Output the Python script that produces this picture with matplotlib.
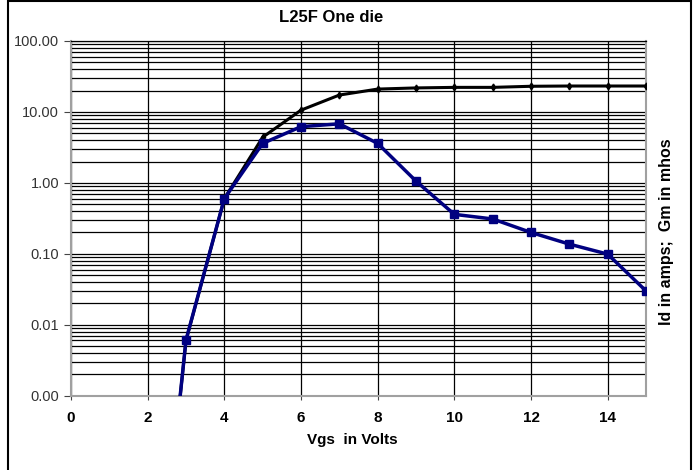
import matplotlib
matplotlib.use("Agg")
import matplotlib.pyplot as plt
from matplotlib.patches import Rectangle
from matplotlib.ticker import FixedLocator, LogLocator, NullFormatter

plt.rcParams['font.family'] = ['Liberation Sans', 'DejaVu Sans']

# Vgs (V)
vgs = [2, 3, 4, 5, 6, 7, 8, 9, 10, 11, 12, 13, 14, 15]
# Id in amps (black)
id_amps = [4e-8, 0.006, 0.6, 4.4, 10.6, 17.3, 21.0, 21.8, 22.2, 22.2, 23.0, 23.2, 23.2, 23.2]
# Gm in mhos (blue)
gm_mhos = [4e-8, 0.0061, 0.60, 3.6, 6.2, 6.8, 3.6, 1.06, 0.36, 0.31, 0.20, 0.137, 0.099, 0.030]

ytick_vals = [0.001, 0.01, 0.1, 1, 10, 100]
ytick_labels = ["0.00", "0.01", "0.10", "1.00", "10.00", "100.00"]
xtick_vals = [0, 2, 4, 6, 8, 10, 12, 14]

fig = plt.figure(figsize=(6.97, 4.70), dpi=100)
ax = fig.add_axes([71 / 697, 1 - 395.7 / 470, 575 / 697, 354.7 / 470])

# outer frame of the chart
fig.patches.append(Rectangle((8 / 697, -0.02), 683 / 697, 1.018, transform=fig.transFigure,
                             fill=False, edgecolor='black', linewidth=1.5))

ax.plot(vgs, id_amps, color='black', linewidth=2.2, marker='d', markersize=3.5, zorder=3)
ax.plot(vgs, gm_mhos, color='#000080', linewidth=2.5, marker='s', markersize=5.5, zorder=4)

ax.set_yscale('log')
ax.set_ylim(0.001, 100)
ax.set_xlim(0, 15)

ax.yaxis.set_major_locator(FixedLocator(ytick_vals))
ax.set_yticklabels(ytick_labels, color='#333333', fontsize=10.5)
ax.yaxis.set_minor_locator(LogLocator(base=10, subs=range(2, 10)))
ax.yaxis.set_minor_formatter(NullFormatter())
ax.tick_params(axis='y', which='minor', length=0)
ax.tick_params(axis='y', which='major', length=5, color='#444444', direction='out')

ax.set_xticks(xtick_vals)
ax.set_xticklabels([str(v) for v in xtick_vals], fontweight='bold', fontsize=11)
ax.tick_params(axis='x', length=3, color='#444444', direction='out', pad=8)

ax.grid(True, which='both', axis='y', color='black', linewidth=0.9)
ax.grid(True, which='major', axis='x', color='black', linewidth=0.9)
ax.set_axisbelow(True)

for side in ['left', 'bottom', 'right']:
    ax.spines[side].set_color('#a0a0a0')
    ax.spines[side].set_linewidth(1.5)
ax.spines['top'].set_color('black')
ax.spines['top'].set_linewidth(0.9)

fig.text(331 / 697, 1 - 18 / 470, "L25F One die", ha='center', va='center',
         fontsize=12, fontweight='bold')
fig.text(352 / 697, 1 - 440 / 470, "Vgs  in Volts", ha='center', va='center',
         fontsize=11, fontweight='bold')
fig.text(667 / 697, 1 - 232 / 470, "Id in amps;  Gm in mhos", ha='center', va='center',
         rotation=90, fontsize=11.5, fontweight='bold')

fig.savefig("out.png", dpi=100)
